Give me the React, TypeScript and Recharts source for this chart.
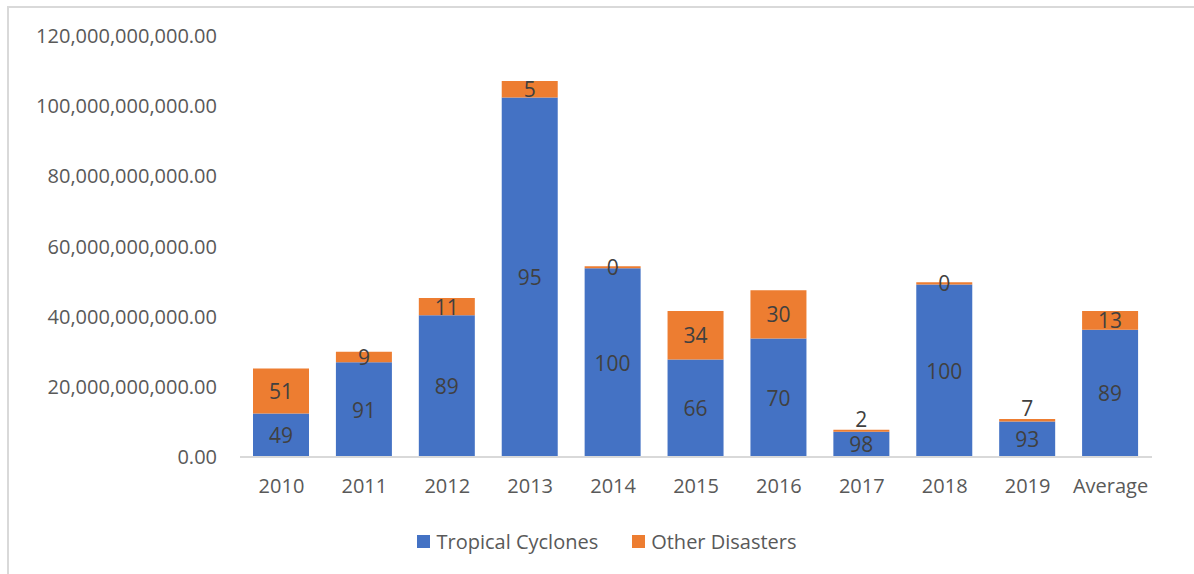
import React from 'react';
import { BarChart, Bar, XAxis, YAxis, LabelList } from 'recharts';

// Damage by year (PHP)
const years = ['2010', '2011', '2012', '2013', '2014', '2015', '2016', '2017', '2018', '2019', 'Average'];
const tropicalCyclones = [12.4e9, 27.0e9, 40.4e9, 102.5e9, 53.8e9, 27.8e9, 33.8e9, 7.2e9, 49.2e9, 10.1e9, 36.3e9];
const otherDisasters = [12.8e9, 3.0e9, 4.9e9, 4.7e9, 0.6e9, 13.8e9, 13.7e9, 0.6e9, 0.6e9, 0.7e9, 5.3e9];
// percentage shares shown as data labels
const cyclonePct = [49, 91, 89, 95, 100, 66, 70, 98, 100, 93, 89];
const otherPct = [51, 9, 11, 5, 0, 34, 30, 2, 0, 7, 13];
const yTicks = [0, 20e9, 40e9, 60e9, 80e9, 100e9, 120e9];

const data = years.map((year, i) => ({
    year,
    tropical: tropicalCyclones[i],
    other: otherDisasters[i],
}));

const FONT = '"Open Sans", Lato, sans-serif';
const BLUE = '#4472C4';
const ORANGE = '#ED7D31';

const fmtMoney = (v: number) =>
    v.toLocaleString('en-US', { minimumFractionDigits: 2, maximumFractionDigits: 2 });

const makeLabel = (pcts: number[], liftSmall: boolean) => (props: any) => {
    const { x, y, width, height, index } = props;
    let cy = y + height / 2;
    // Excel moves the label above the bar when the stack is too short to hold both
    if (liftSmall && Math.abs(height) < 10 && y + height > 400) cy = y - 11;
    return (
        <text
            x={x + width / 2}
            y={cy}
            textAnchor="middle"
            dominantBaseline="central"
            fill="#404040"
            fontSize={21}
            fontFamily={FONT}
        >
            {pcts[index]}
        </text>
    );
};

export default function App() {
    return (
        <div style={{ position: 'absolute', left: 0, top: 0, width: 1194, height: 574, background: '#fff', overflow: 'hidden' }}>
            <div
                style={{
                    position: 'absolute',
                    left: 7,
                    top: 6,
                    width: 1200,
                    height: 600,
                    borderTop: '2px solid #d9d9d9',
                    borderLeft: '2px solid #d9d9d9',
                }}
            ></div>
            <BarChart
                width={1194}
                height={574}
                data={data}
                margin={{ top: 36, right: 42, bottom: 87, left: 0 }}
                style={{ position: 'absolute', left: 0, top: 0 }}
            >
                <XAxis
                    dataKey="year"
                    height={30}
                    axisLine={{ stroke: '#d9d9d9', strokeWidth: 2 }}
                    tickLine={false}
                    tickMargin={16}
                    tick={{ fill: '#595959', fontSize: 20, fontFamily: FONT }}
                />
                <YAxis
                    width={240}
                    domain={[0, 120e9]}
                    ticks={yTicks}
                    axisLine={false}
                    tickLine={false}
                    tickMargin={17}
                    tickFormatter={fmtMoney}
                    tick={{ fill: '#595959', fontSize: 20, fontFamily: FONT }}
                />
                <Bar dataKey="tropical" stackId="a" fill={BLUE} barSize={56} isAnimationActive={false}>
                    <LabelList dataKey="tropical" content={makeLabel(cyclonePct, false)} />
                </Bar>
                <Bar dataKey="other" stackId="a" fill={ORANGE} barSize={56} isAnimationActive={false}>
                    <LabelList dataKey="other" content={makeLabel(otherPct, true)} />
                </Bar>
            </BarChart>
            <div
                style={{
                    position: 'absolute',
                    left: 0,
                    top: 528,
                    width: 1214,
                    display: 'flex',
                    justifyContent: 'center',
                    alignItems: 'center',
                    fontFamily: FONT,
                    fontSize: 20,
                    color: '#595959',
                }}
            >
                <span style={{ display: 'inline-block', width: 13, height: 13, background: BLUE, marginRight: 6 }}></span>
                <span style={{ marginRight: 34 }}>Tropical Cyclones</span>
                <span style={{ display: 'inline-block', width: 13, height: 13, background: ORANGE, marginRight: 6 }}></span>
                <span>Other Disasters</span>
            </div>
        </div>
    );
}
